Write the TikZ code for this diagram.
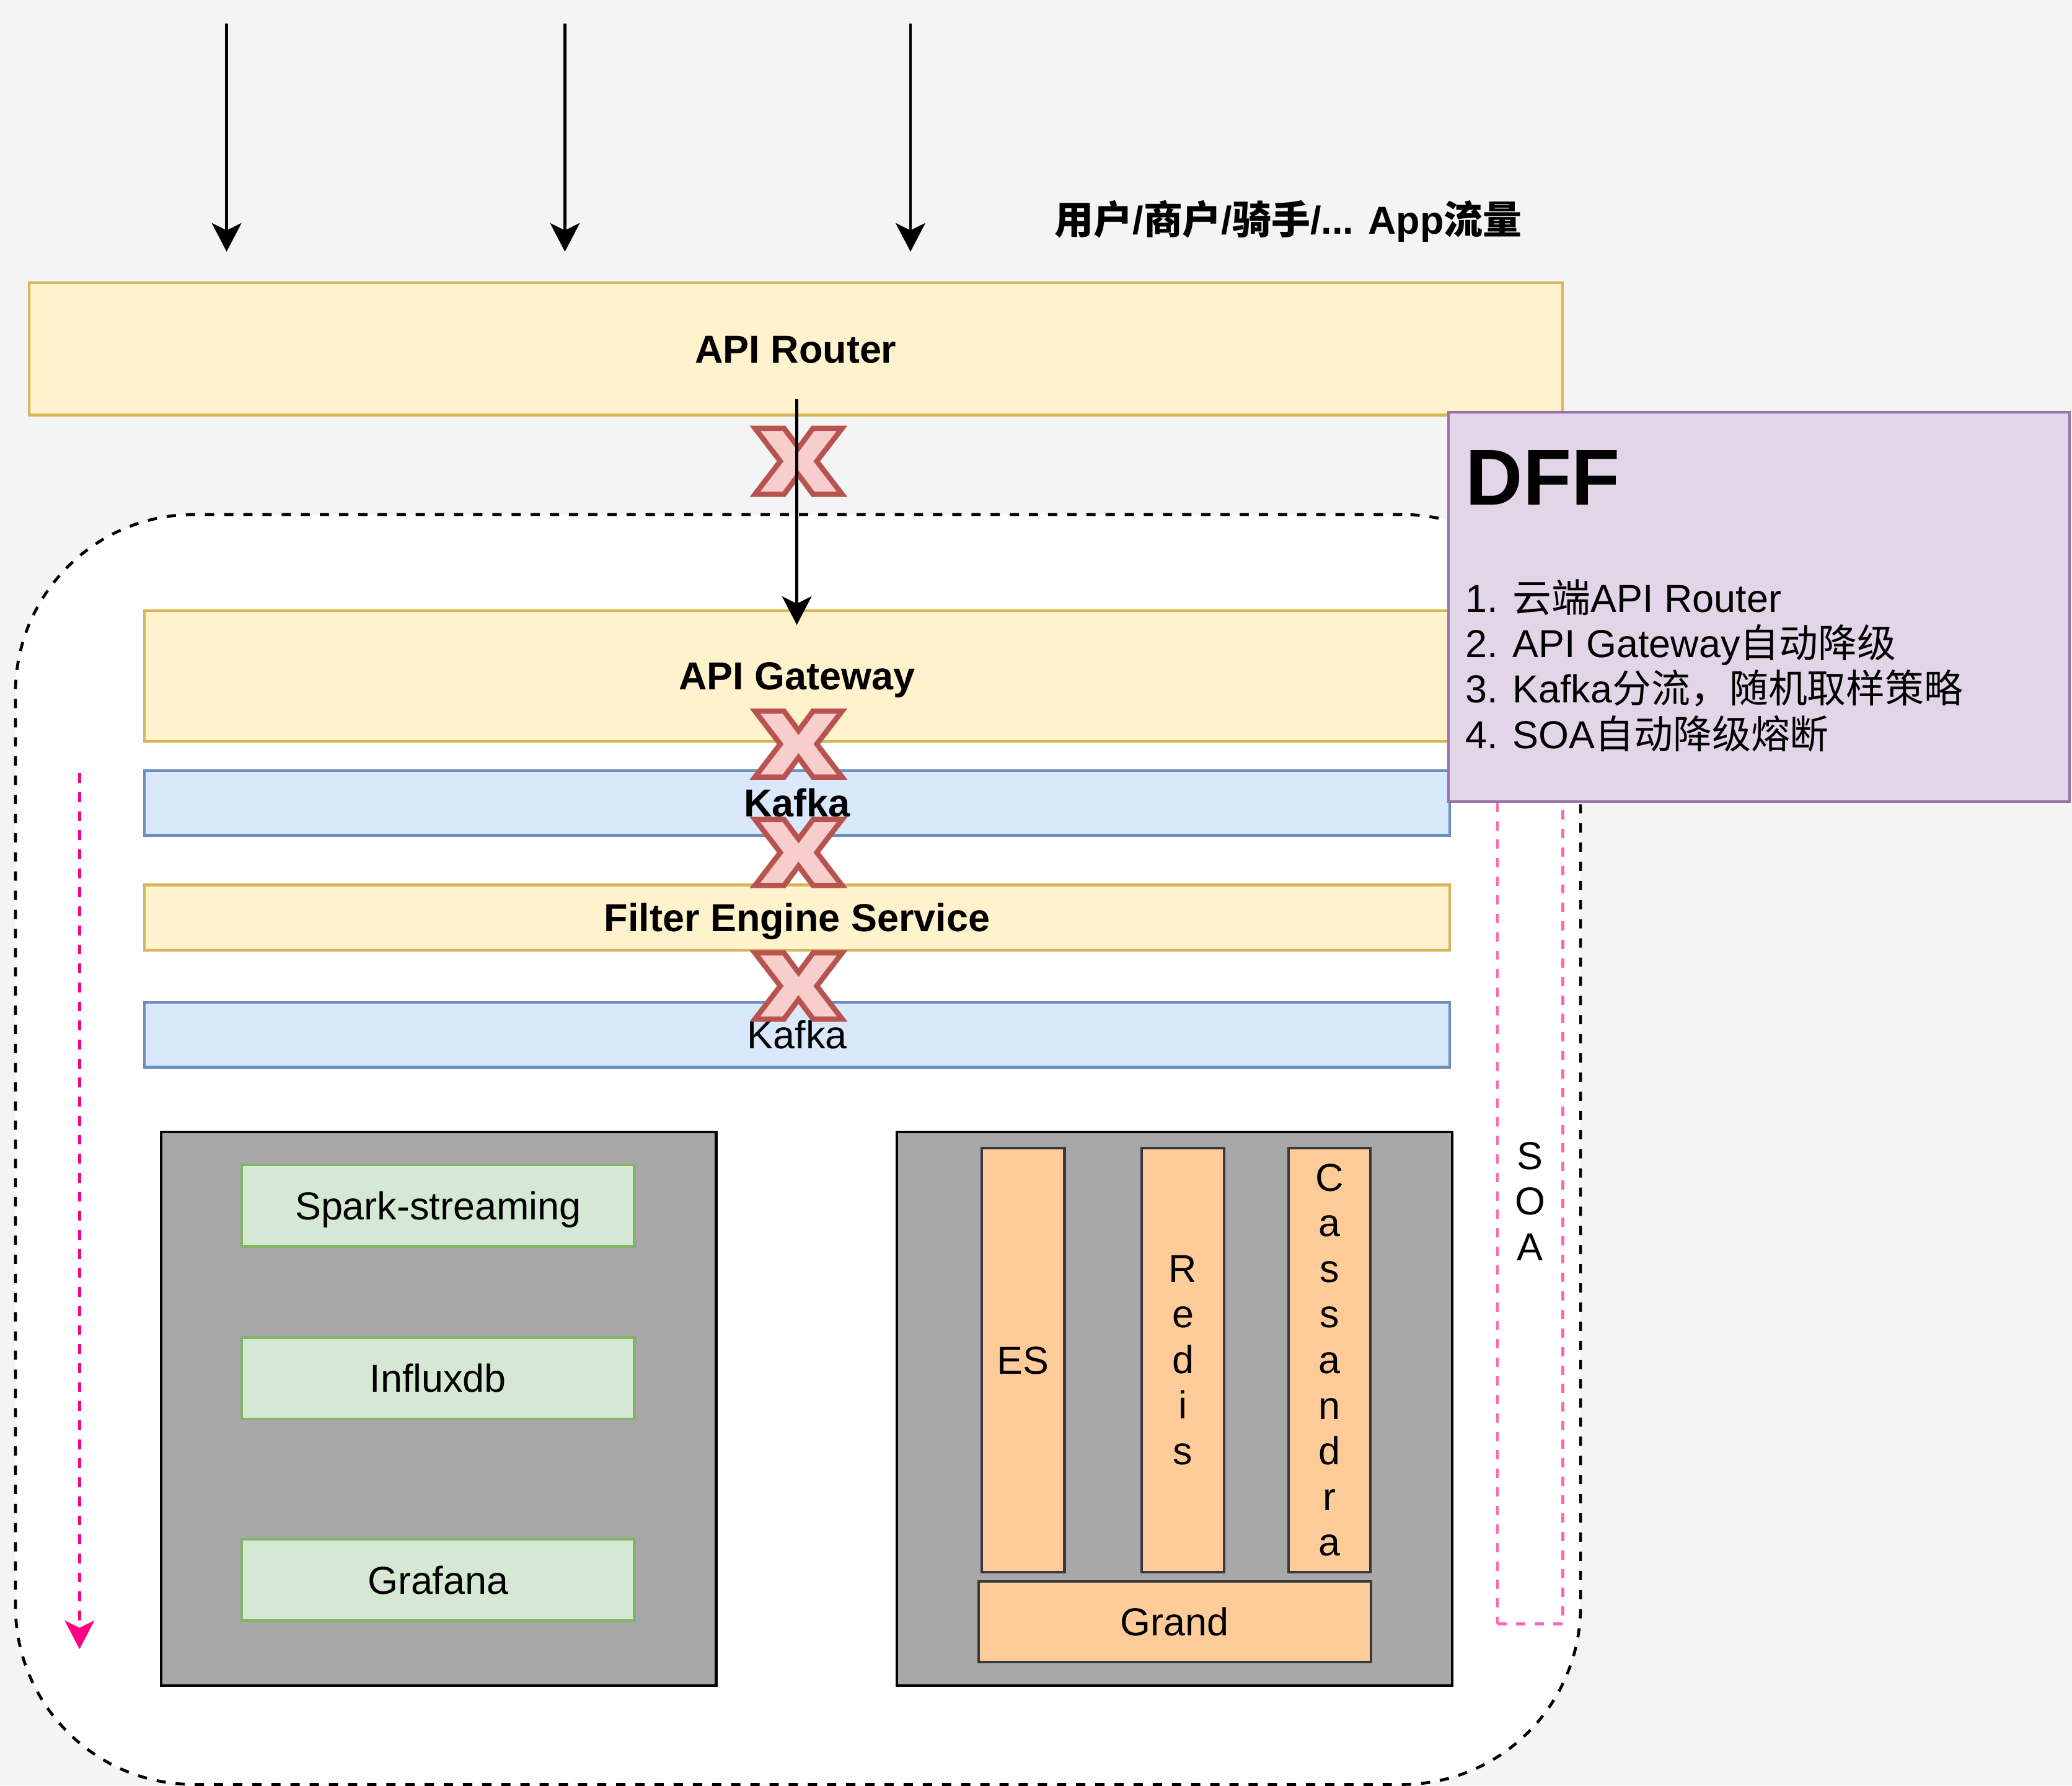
\documentclass[tikz,border=0pt]{standalone}
\usepackage{fontspec}
\setmainfont{Liberation Sans}
\newfontfamily\cjk{Noto Sans CJK SC}
\usetikzlibrary{arrows.meta}
\definecolor{bgc}{HTML}{F4F4F4}
\definecolor{yfill}{HTML}{FFF2CC}
\definecolor{ystroke}{HTML}{D6B656}
\definecolor{bfill}{HTML}{DAE8FC}
\definecolor{bstroke}{HTML}{6C8EBF}
\definecolor{gfill}{HTML}{D5E8D4}
\definecolor{gstroke}{HTML}{82B366}
\definecolor{ofill}{HTML}{FFCC99}
\definecolor{ostroke}{HTML}{36393D}
\definecolor{grayfill}{HTML}{A8A8A8}
\definecolor{pfill}{HTML}{E1D5E7}
\definecolor{pstroke}{HTML}{9673A6}
\definecolor{xfill}{HTML}{F8CECC}
\definecolor{xstroke}{HTML}{B85450}
\definecolor{pinkarrow}{HTML}{FF0080}
\definecolor{pinkbox}{HTML}{FF66B3}
\newcommand\myfs{\fontsize{29.5}{34.5}\selectfont}
\begin{document}
\begin{tikzpicture}[x=1pt,y=-1pt,
  shapebox/.style={draw, line width=2pt, inner sep=0pt, outer sep=0pt, anchor=north west, font=\myfs},
  lbl/.style={text height=21pt, text depth=0pt},
  ybox/.style={shapebox, lbl, fill=yfill, draw=ystroke},
  bbox/.style={shapebox, lbl, fill=bfill, draw=bstroke},
  gbox/.style={shapebox, lbl, fill=gfill, draw=gstroke},
  obox/.style={shapebox, fill=ofill, draw=ostroke},
  graybox/.style={shapebox, fill=grayfill, draw=black, line width=2.2pt},
  arr/.style={line width=2.2pt, -{Stealth[length=21.6pt,width=22.4pt,inset=5.5pt]}},
  xmk/.style={line width=4pt, fill=xfill, draw=xstroke, miter limit=3},
  xm/.pic={\draw[xmk] (-33,-25) -- (-11,-25) -- (0,-10.2) -- (11,-25) -- (33,-25) -- (13.8,0) -- (33,25) -- (11,25) -- (0,10.2) -- (-11,25) -- (-33,25) -- (-13.8,0) -- cycle;}
]
% background
\fill[bgc] (0,0) rectangle (1568,1350.84);
\useasboundingbox (0,0) rectangle (1568,1350.84);

% container
\node[draw=black, fill=white, line width=2.2pt, dash pattern=on 7pt off 7.5pt, rounded corners=135pt, anchor=north west, minimum width=1184.4pt, minimum height=960.8pt, inner sep=0pt] (cont) at (10.6,388.2) {};

% top arrows
\coordinate (a1s) at (171.5,18); \coordinate (a1e) at (171.5,190.4);
\coordinate (a2s) at (427.5,18); \coordinate (a2e) at (427.5,190.4);
\coordinate (a3s) at (689,18);   \coordinate (a3e) at (689,190.4);
\draw[arr] (a1s) -- (a1e);
\draw[arr] (a2s) -- (a2e);
\draw[arr] (a3s) -- (a3e);

\node[anchor=base west, font=\myfs\bfseries, inner sep=0pt] (traffic) at (798,177) {{\cjk 用户}/{\cjk 商户}/{\cjk 骑手}/... App{\cjk 流量}};

% main boxes
\node[ybox, minimum width=1160.5pt, minimum height=100pt, font=\myfs\bfseries] (router) at (22,214) {API Router};
\node[ybox, minimum width=987.6pt, minimum height=99pt, font=\myfs\bfseries] (gateway) at (109.4,462) {API Gateway};
\node[bbox, minimum width=987.6pt, minimum height=49pt, font=\myfs\bfseries] (kafka1) at (109.4,583) {Kafka};
\node[ybox, minimum width=987.6pt, minimum height=49.5pt, font=\myfs\bfseries] (filter) at (109.4,669.5) {Filter Engine Service};
\node[bbox, minimum width=987.6pt, minimum height=49.2pt] (kafka2) at (109.4,758.3) {Kafka};

% left gray group
\node[graybox, minimum width=420pt, minimum height=418.9pt] (grayL) at (122,856.4) {};
\node[gbox, minimum width=297pt, minimum height=61.8pt] (spark) at (183,881.2) {Spark-streaming};
\node[gbox, minimum width=297pt, minimum height=61.6pt] (influx) at (183,1012) {Influxdb};
\node[gbox, minimum width=297pt, minimum height=61.4pt] (grafana) at (183,1164.7) {Grafana};

% right gray group
\node[graybox, minimum width=420.3pt, minimum height=418.9pt] (grayR) at (678.7,856.4) {};
\node[obox, lbl, minimum width=62.8pt, minimum height=321pt] (es) at (742.8,868.5) {ES};
\node[obox, align=center, minimum width=62.4pt, minimum height=321pt] (redis) at (864,868.5) {R\\e\\d\\i\\s};
\node[obox, align=center, minimum width=61.8pt, minimum height=321pt] (cass) at (975.2,868.5) {C\\a\\s\\s\\a\\n\\d\\r\\a};
\node[obox, lbl, minimum width=296.8pt, minimum height=61.1pt] (grand) at (740.6,1196.5) {Grand};

% SOA box
\node[shapebox, draw=pinkbox, line width=2.2pt, dash pattern=on 7pt off 7pt, align=center, minimum width=49.6pt, minimum height=639pt] (soa) at (1133.2,589.5) {S\\O\\A};

% pink arrow
\coordinate (p1) at (60.2,585); \coordinate (p2) at (60.2,1247.7);
\draw[line width=2.2pt, draw=pinkarrow, dash pattern=on 7.4pt off 7pt, -{Stealth[length=21.6pt,width=22.4pt,inset=5.5pt,fill=pinkarrow]}] (p1) -- (p2);

% X marks
\pic at (604.3,349) {xm};
\pic at (604.3,563) {xm};
\pic at (604.3,645) {xm};
\pic at (604.3,746) {xm};

% arrow router -> gateway
\coordinate (rg1) at (603,302); \coordinate (rg2) at (603,472.8);
\draw[arr] (rg1) -- (rg2);

% DFF box
\node[shapebox, fill=pfill, draw=pstroke, minimum width=470pt, minimum height=294.5pt] (dff) at (1096,311.8) {};
\node[anchor=base west, inner sep=0pt, font=\fontsize{60}{72}\selectfont\bfseries] (dfft) at (1109,382) {DFF};
\node[anchor=base west, inner sep=0pt, font=\myfs] (l1) at (1109,463) {1. {\cjk 云端}API Router};
\node[anchor=base west, inner sep=0pt, font=\myfs] (l2) at (1109,497.3) {2. API Gateway{\cjk 自动降级}};
\node[anchor=base west, inner sep=0pt, font=\myfs] (l3) at (1109,531.7) {3. Kafka{\cjk 分流，随机取样策略}};
\node[anchor=base west, inner sep=0pt, font=\myfs] (l4) at (1109,566.2) {4. SOA{\cjk 自动降级熔断}};
\end{tikzpicture}
\end{document}
